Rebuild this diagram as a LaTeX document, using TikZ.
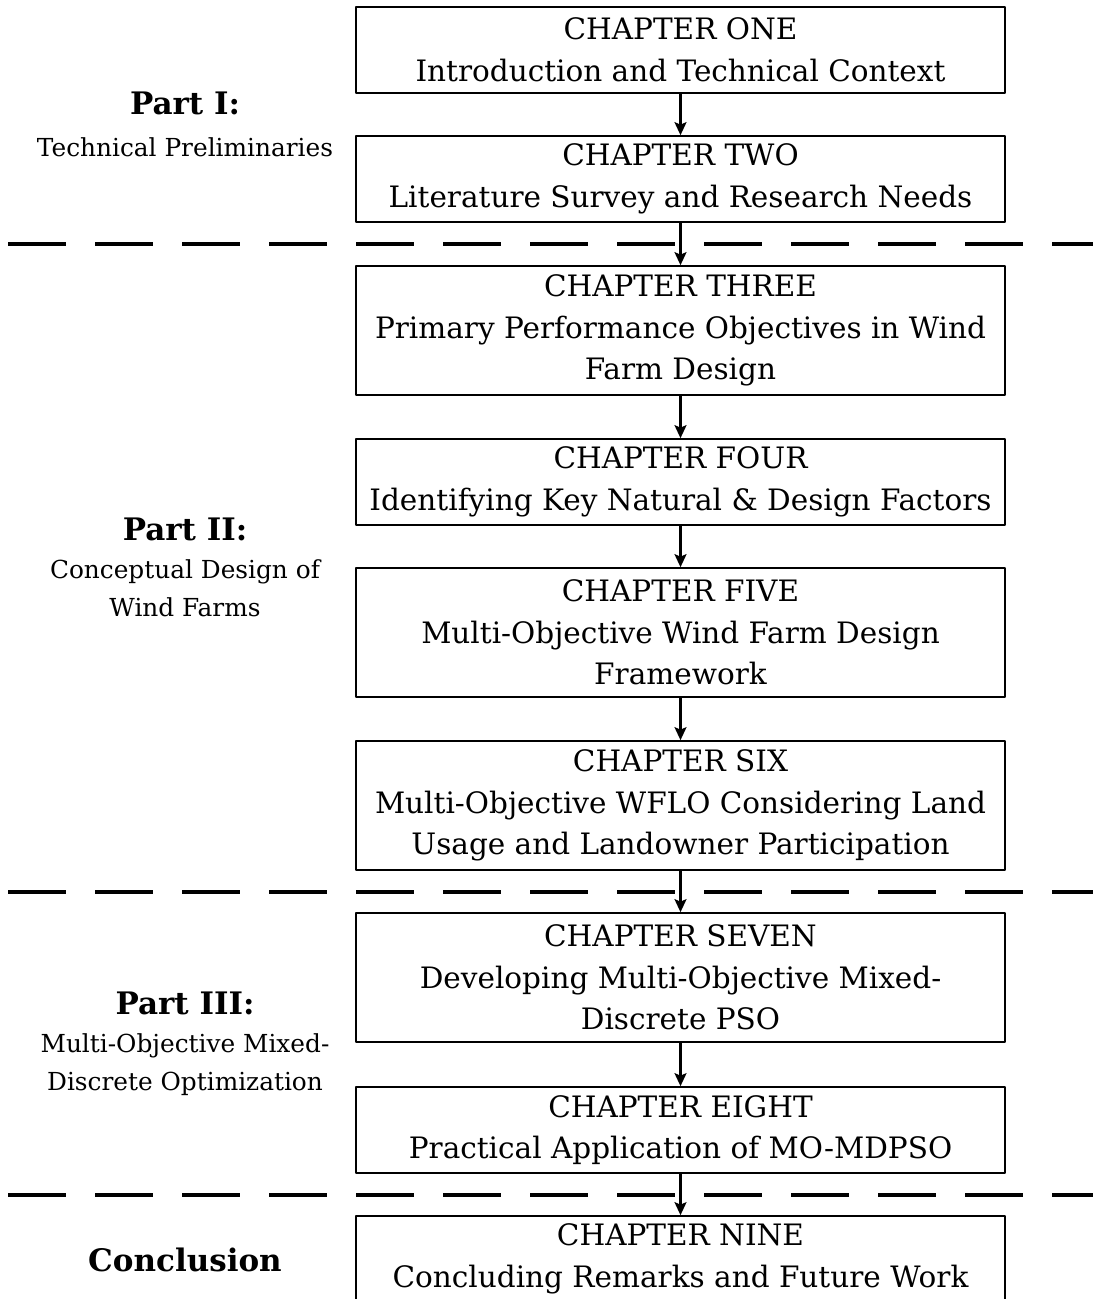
\documentclass[tikz,border=0pt]{standalone}
\usepackage{fontspec}
\setmainfont{DejaVu Serif}
\usetikzlibrary{arrows.meta}
\tikzset{
	chap/.style={draw,line width=1.7pt,minimum width=649pt,align=center,inner sep=0pt,
		font=\fontsize{29.5}{41.5}\selectfont},
	chaptwo/.style={chap,minimum height=86pt},
	chapthree/.style={chap,minimum height=129pt},
	part/.style={align=center,font=\fontsize{24.8}{38}\selectfont},
	sep/.style={line width=3.3pt,dash pattern=on 58pt off 29pt},
	flow/.style={line width=2.2pt,-{Stealth[length=13pt,width=12pt,inset=2.5pt]}}
}
\begin{document}
\begin{tikzpicture}[x=1pt,y=-1pt,line join=round]
	\useasboundingbox (0,0) rectangle (1093,1299);
	\clip (0,0) rectangle (1093,1299);
	%Part I
	\node[part] (p1) at (185,124) {\textbf{\fontsize{31}{38}\selectfont Part I:}\\[4pt] Technical Preliminaries};
	\node[chaptwo] (c1) at (680.5,50) {CHAPTER ONE\\ Introduction and Technical Context};
	\node[chaptwo] (c2) at (680.5,179) {CHAPTER TWO\\ Literature Survey and Research Needs};
	\draw[sep] (8,244) -- (1093,244);
	%Part II
	\node[part] (p2) at (185,567) {\textbf{\fontsize{31}{38}\selectfont Part II:}\\ Conceptual Design of\\ Wind Farms};
	\node[chapthree] (c3) at (680.5,330.5) {CHAPTER THREE\\ Primary Performance Objectives in Wind\\ Farm Design};
	\node[chaptwo] (c4) at (680.5,482) {CHAPTER FOUR\\ Identifying Key Natural \& Design Factors};
	\node[chapthree] (c5) at (680.5,632.5) {CHAPTER FIVE\\ Multi-Objective Wind Farm Design\\ Framework};
	\node[chapthree] (c6) at (680.5,805.5) {CHAPTER SIX\\ Multi-Objective WFLO Considering Land\\ Usage and Landowner Participation};
	\draw[sep] (8,892) -- (1093,892);
	%Part III
	\node[part] (p3) at (185,1044) {\textbf{\fontsize{31}{38}\selectfont Part III:}\\ Multi-Objective Mixed-\\ Discrete Optimization};
	\node[chapthree] (c7) at (680.5,977.5) {CHAPTER SEVEN\\ Developing Multi-Objective Mixed-\\ Discrete PSO};
	\node[chaptwo] (c8) at (680.5,1130) {CHAPTER EIGHT\\ Practical Application of MO-MDPSO};
	\draw[sep] (8,1195) -- (1093,1195);
	%Conclusion
	\node[part,font=\bfseries\fontsize{31}{38}\selectfont] (p4) at (185,1260) {Conclusion};
	\node[chaptwo] (c9) at (680.5,1259) {CHAPTER NINE\\ Concluding Remarks and Future Work};
	%arrows
	\foreach \a/\b in {c1/c2,c2/c3,c3/c4,c4/c5,c5/c6,c6/c7,c7/c8,c8/c9}
		\draw[flow] (\a) -- (\b);
\end{tikzpicture}
\end{document}
